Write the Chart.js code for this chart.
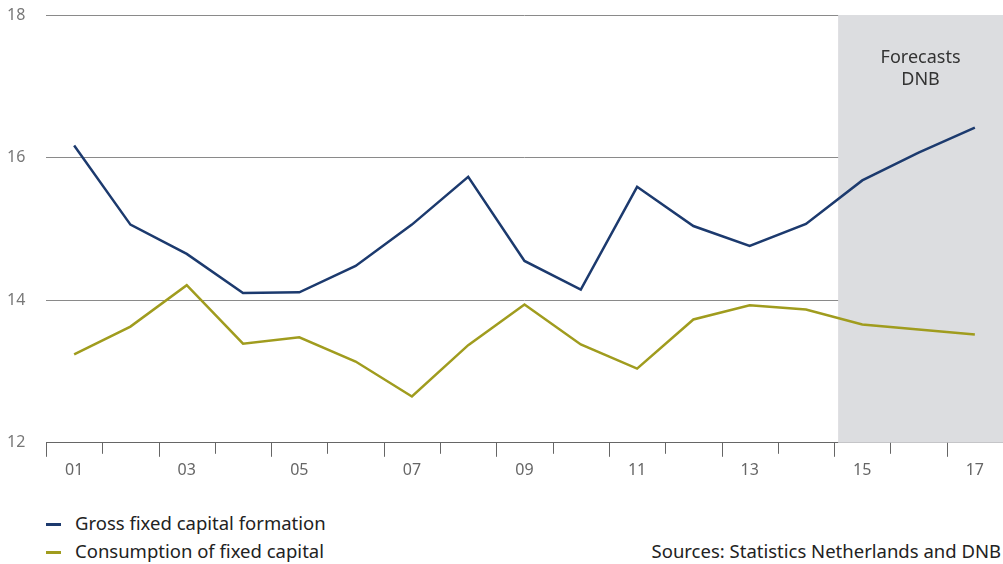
<!DOCTYPE html>
<html>
<head>
<meta charset="utf-8">
<script src="https://cdn.jsdelivr.net/npm/chart.js@4.4.0/dist/chart.umd.min.js"></script>
<style>
  body { margin: 0; background: #fff; font-family: "Noto Sans", sans-serif; }
  #wrap { position: relative; width: 1003px; height: 564px; }
  #box { position: absolute; left: 0; top: 0; width: 1003px; height: 484px; }
  .leg { position: absolute; left: 46px; font-size: 18.5px; color: #222; }
  .leg span { display: inline-block; width: 15px; height: 3px; vertical-align: middle; margin-right: 14px; position: relative; top: -1px; }
  #src { position: absolute; right: 2px; top: 538px; font-size: 18.5px; color: #222; }
</style>
</head>
<body>
<div id="wrap">
  <div id="box"><canvas id="myChart"></canvas></div>
  <div class="leg" style="top:510px"><span style="background:#1c3a6e"></span>Gross fixed capital formation</div>
  <div class="leg" style="top:538px"><span style="background:#a09c1e"></span>Consumption of fixed capital</div>
  <div id="src">Sources: Statistics Netherlands and DNB</div>
</div>
<script>
const years = ['01','02','03','04','05','06','07','08','09','10','11','12','13','14','15','16','17'];
const grossFormation = [16.17,15.06,14.65,14.10,14.11,14.48,15.06,15.73,14.55,14.15,15.59,15.04,14.76,15.07,15.68,16.07,16.42];
const consumption = [13.24,13.63,14.21,13.39,13.48,13.14,12.65,13.37,13.94,13.38,13.04,13.73,13.93,13.87,13.66,13.59,13.52];
const yTicks = [12,14,16,18];
const forecastFrom = '15';

// grijze zone + kleine streepjes onder de as
const extras = {
  id: 'extras',
  beforeDatasetsDraw(chart) {
    const c = chart.ctx, x = chart.scales.x, a = chart.chartArea;
    const start = x.getPixelForValue(years.indexOf(forecastFrom) - 0.5) + 4;
    c.save();
    c.fillStyle = '#dcdde0';
    c.fillRect(start, a.top, a.right - start, a.bottom - a.top);
    c.fillStyle = '#333';
    c.font = '18px "Noto Sans"';
    c.textAlign = 'center';
    const mid = (start + a.right) / 2;
    c.fillText('Forecasts', mid, 63);
    c.fillText('DNB', mid, 85);
    c.restore();
  },
  afterDraw(chart) {
    const c = chart.ctx, x = chart.scales.x, a = chart.chartArea;
    c.save();
    c.strokeStyle = '#666';
    c.lineWidth = 1;
    for (let i = 0; i < years.length; i++) {
      const px = Math.round(x.getPixelForValue(i - 0.5)) + 0.5;
      c.beginPath();
      c.moveTo(px, a.bottom);
      c.lineTo(px, a.bottom + (i % 2 === 0 ? 14 : 11));
      c.stroke();
    }
    c.restore();
  }
};

new Chart(document.getElementById('myChart'), {
  type: 'line',
  data: {
    labels: years,
    datasets: [{
      label: 'Gross fixed capital formation',
      data: grossFormation,
      borderColor: '#1c3a6e',
      borderWidth: 2.5,
      pointRadius: 0,
      tension: 0
    }, {
      label: 'Consumption of fixed capital',
      data: consumption,
      borderColor: '#a09c1e',
      borderWidth: 2.5,
      pointRadius: 0,
      tension: 0
    }]
  },
  options: {
    responsive: true,
    maintainAspectRatio: false,
    animation: false,
    layout: { padding: { left: 7, top: 15, right: 0, bottom: 0 } },
    plugins: { legend: { display: false }, tooltip: { enabled: false } },
    scales: {
      x: {
        offset: true,
        grid: { display: true, offset: true, drawOnChartArea: false, drawTicks: true, tickLength: 14, tickColor: 'transparent' },
        border: { color: '#666' },
        ticks: {
          autoSkip: false, maxRotation: 0, padding: 4,
          color: '#666', font: { family: 'Noto Sans', size: 16 },
          callback: (v, i) => (i % 2 === 0 ? years[i] : '')
        }
      },
      y: {
        min: 12, max: 18,
        afterBuildTicks: s => { s.ticks = yTicks.map(v => ({ value: v })); },
        afterFit: s => { s.width = 39; },
        grid: { color: '#8a8a8a', drawTicks: false },
        border: { display: false },
        ticks: { crossAlign: 'far', padding: 0, color: '#777', font: { family: 'Noto Sans', size: 16 } }
      }
    }
  },
  plugins: [extras]
});
</script>
</body>
</html>
